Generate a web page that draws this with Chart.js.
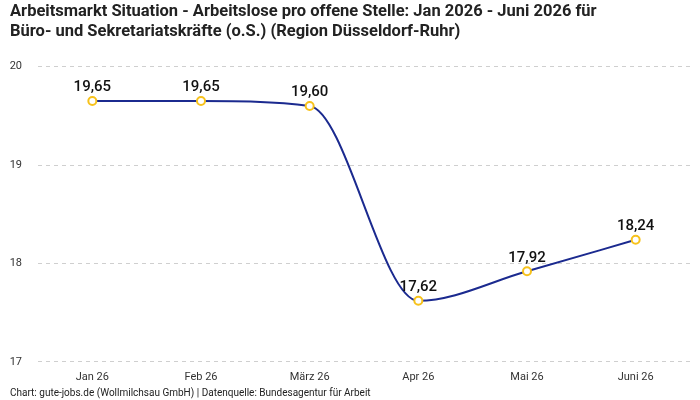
<!DOCTYPE html>
<html>
<head>
<meta charset="utf-8">
<script src="https://cdn.jsdelivr.net/npm/chart.js@4.4.1/dist/chart.umd.min.js"></script>
<style>
  html, body { margin: 0; padding: 0; background: #fff; }
  #wrap { width: 700px; height: 400px; }
</style>
</head>
<body>
<div id="wrap"><canvas id="chart"></canvas></div>
<script>
// Data
const months = ['Jan 26', 'Feb 26', 'März 26', 'Apr 26', 'Mai 26', 'Juni 26'];
const values = [19.65, 19.65, 19.60, 17.62, 17.92, 18.24];
const yTicks = [17, 18, 19, 20];

const titleLines = [
    'Arbeitsmarkt Situation - Arbeitslose pro offene Stelle: Jan 2026 - Juni 2026 für',
    'Büro- und Sekretariatskräfte (o.S.) (Region Düsseldorf-Ruhr)'
];
const sourceText = 'Chart: gute-jobs.de (Wollmilchsau GmbH) | Datenquelle: Bundesagentur für Arbeit';

const FONT = 'Roboto';

// Value labels above points
const valueLabels = {
    id: 'valueLabels',
    afterDatasetsDraw(chart) {
        const ctx = chart.ctx;
        const meta = chart.getDatasetMeta(0);
        ctx.save();
        ctx.font = '500 15px ' + FONT;
        ctx.fillStyle = '#111';
        ctx.textAlign = 'center';
        ctx.textBaseline = 'bottom';
        meta.data.forEach((pt, i) => {
            const txt = values[i].toFixed(2).replace('.', ',');
            ctx.fillText(txt, pt.x, pt.y - 6);
        });
        ctx.restore();
    }
};

// Source line at the bottom left
const sourceLine = {
    id: 'sourceLine',
    afterDraw(chart) {
        const ctx = chart.ctx;
        ctx.save();
        ctx.font = '10px ' + FONT;
        ctx.fillStyle = '#222';
        ctx.textAlign = 'left';
        ctx.textBaseline = 'middle';
        ctx.fillText(sourceText, 10, 393);
        ctx.restore();
    }
};

new Chart(document.getElementById('chart'), {
    type: 'line',
    data: {
        labels: months,
        datasets: [{
            data: values,
            borderColor: '#1b2a8f',
            borderWidth: 2,
            cubicInterpolationMode: 'monotone',
            pointRadius: 4,
            pointHoverRadius: 4,
            pointBackgroundColor: '#ffffff',
            pointBorderColor: '#f7c21b',
            pointBorderWidth: 2,
            fill: false
        }]
    },
    options: {
        responsive: true,
        maintainAspectRatio: false,
        animation: false,
        layout: { padding: { left: 10, right: 10, top: 2, bottom: 15 } },
        scales: {
            x: {
                offset: true,
                grid: { display: false },
                border: { display: false },
                ticks: { color: '#333', font: { size: 11, family: FONT }, padding: 1 }
            },
            y: {
                min: 17,
                max: 20,
                afterBuildTicks(axis) {
                    axis.ticks = yTicks.map(v => ({ value: v }));
                },
                afterFit(axis) {
                    axis.width = 28;
                },
                grid: { color: '#cfcfcf', drawTicks: false },
                border: { display: false, dash: [4, 4] },
                ticks: { color: '#333', font: { size: 11, family: FONT }, padding: 16 }
            }
        },
        plugins: {
            legend: { display: false },
            tooltip: { enabled: false },
            title: {
                display: true,
                text: titleLines,
                align: 'start',
                color: '#222',
                font: { size: 16.5, weight: 'bold', family: FONT },
                padding: { top: 0, bottom: 25 }
            }
        }
    },
    plugins: [valueLabels, sourceLine]
});
</script>
</body>
</html>
